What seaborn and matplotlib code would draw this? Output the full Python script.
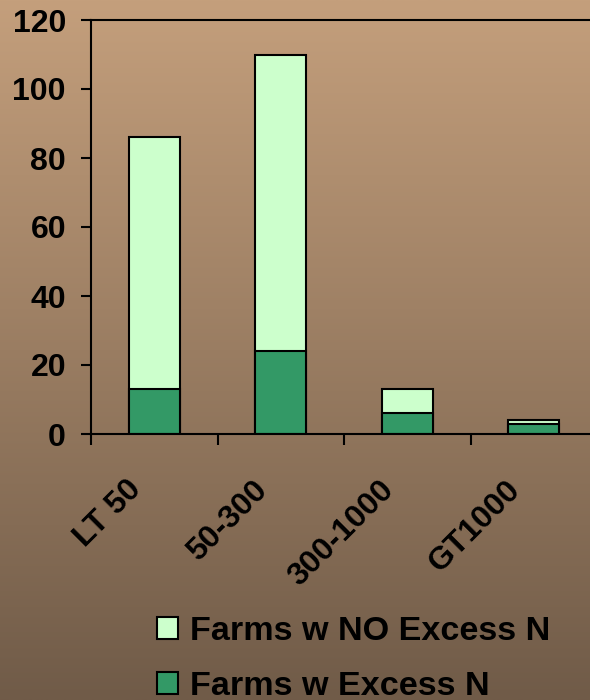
import numpy as np
import pandas as pd
import matplotlib
matplotlib.use("Agg")
import matplotlib.pyplot as plt
from matplotlib.patches import Patch
import seaborn as sns

# Farm counts by herd-size class
categories = ["LT 50", "50-300", "300-1000", "GT1000"]
excess_n = [13, 24, 6, 3]
no_excess_n = [73, 86, 7, 1]
y_ticks = [0, 20, 40, 60, 80, 100, 120]

label_no = "Farms w NO Excess N"
label_yes = "Farms w Excess N"

df = pd.DataFrame({
    "size": categories,
    "excess": excess_n,
    "no_excess": no_excess_n,
})
df["total"] = df["excess"] + df["no_excess"]

sns.set_theme(style="white")
plt.rcParams["font.family"] = ["Liberation Sans", "DejaVu Sans"]
plt.rcParams["font.weight"] = "bold"
plt.rcParams["text.color"] = "black"
plt.rcParams["xtick.color"] = "black"
plt.rcParams["ytick.color"] = "black"
plt.rcParams["xtick.labelcolor"] = "black"
plt.rcParams["ytick.labelcolor"] = "black"

LIGHT = "#CCFFCC"
DARK = "#339966"

fig = plt.figure(figsize=(5.9, 7.0), dpi=100)

# Brown vertical gradient behind everything
bg = fig.add_axes([0, 0, 1, 1], zorder=-1)
top_rgb = np.array([196, 159, 124]) / 255.0
bot_rgb = np.array([112, 91, 72]) / 255.0
t = np.linspace(0, 1, 256)[:, None]
grad = (1 - t) * top_rgb + t * bot_rgb
bg.imshow(grad[:, None, :], aspect="auto", extent=[0, 1, 0, 1])
bg.set_axis_off()

ax = fig.add_axes([91 / 590, 1 - 434 / 700, (597 - 91) / 590, (434 - 20) / 700])
ax.patch.set_alpha(0)

# stacked: full column in light green, excess portion overdrawn in dark green
sns.barplot(data=df, x="size", y="total", color=LIGHT, width=0.4,
            edgecolor="black", linewidth=1.5, saturation=1, ax=ax)
sns.barplot(data=df, x="size", y="excess", color=DARK, width=0.4,
            edgecolor="black", linewidth=1.5, saturation=1, ax=ax)

ax.set_xlim(-0.5, len(categories) - 0.5)
ax.set_ylim(0, 120)
ax.set_yticks(y_ticks)
ax.set_yticklabels([str(v) for v in y_ticks], fontsize=23, fontweight="bold",
                   color="black")
ax.set_xlabel("")
ax.set_ylabel("")

# ticks sit between categories; slanted labels end just left of each bar centre
ax.set_xticks(np.arange(len(categories) + 1) - 0.5)
ax.set_xticklabels([""] * (len(categories) + 1))
ax.set_xticks(np.arange(len(categories)) - 0.14, minor=True)
ax.set_xticklabels(categories, minor=True, rotation=45, ha="right", va="center",
                   rotation_mode="anchor", fontsize=23, fontweight="bold",
                   color="black")
ax.tick_params(axis="x", which="major", direction="out", length=8, width=1.5,
               color="black", bottom=True)
ax.tick_params(axis="x", which="minor", length=0, pad=37)
ax.tick_params(axis="y", direction="out", length=7, width=1.5, color="black",
               left=True, pad=11)

for side in ["left", "bottom", "top"]:
    ax.spines[side].set_visible(True)
    ax.spines[side].set_color("black")
    ax.spines[side].set_linewidth(1.5)
ax.spines["right"].set_visible(False)

handles = [Patch(facecolor=LIGHT, edgecolor="black", linewidth=1.5, label=label_no),
           Patch(facecolor=DARK, edgecolor="black", linewidth=1.5, label=label_yes)]
leg = fig.legend(handles=handles, loc="upper left",
                 bbox_to_anchor=(157 / 590, 1 - 616 / 700),
                 frameon=False, prop={"size": 24.6, "weight": "bold"},
                 handlelength=0.6, handleheight=0.6, handletextpad=0.37,
                 labelspacing=0.7, borderpad=0, borderaxespad=0)
for txt in leg.get_texts():
    txt.set_color("black")

fig.savefig("out.png", dpi=100)
